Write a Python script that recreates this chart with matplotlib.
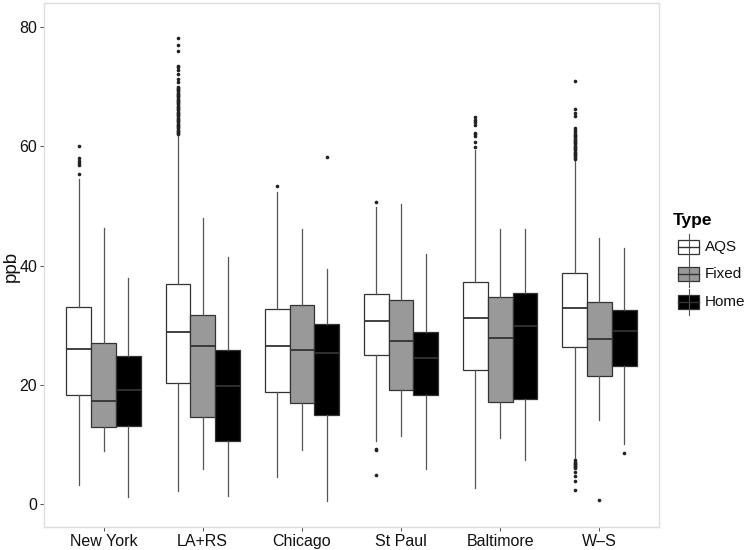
import matplotlib
matplotlib.use("Agg")
import matplotlib.pyplot as plt
from matplotlib.patches import Rectangle
from matplotlib.lines import Line2D

plt.rcParams['font.family'] = ['Liberation Sans', 'DejaVu Sans']

cities = ["New York", "LA+RS", "Chicago", "St Paul", "Baltimore", "W\u2013S"]
types = ["AQS", "Fixed", "Home"]
colors = {"AQS": "#ffffff", "Fixed": "#999999", "Home": "#000000"}

# [whislo, q1, med, q3, whishi] per city, per type
aqs_stats = [
    [3.2, 18.3, 26.1, 33.0, 54.6],
    [2.3, 20.3, 28.9, 37.0, 61.8],
    [4.6, 18.9, 26.6, 32.7, 52.3],
    [10.7, 25.1, 30.8, 35.3, 49.9],
    [2.8, 22.6, 31.3, 37.2, 59.3],
    [7.6, 26.3, 32.9, 38.8, 57.7],
]
fixed_stats = [
    [8.9, 13.0, 17.3, 27.0, 46.3],
    [6.0, 14.6, 26.6, 31.8, 48.0],
    [9.2, 17.0, 25.8, 33.4, 46.2],
    [11.5, 19.2, 27.4, 34.2, 50.3],
    [11.2, 17.2, 27.9, 34.8, 46.1],
    [14.2, 21.6, 27.8, 33.9, 44.6],
]
home_stats = [
    [1.2, 13.1, 19.2, 24.8, 38.0],
    [1.5, 10.6, 19.9, 25.8, 41.5],
    [0.55, 15.0, 25.3, 30.3, 39.4],
    [6.0, 18.4, 24.6, 28.9, 42.0],
    [7.4, 17.7, 29.9, 35.5, 46.1],
    [10.2, 23.2, 29.0, 32.5, 42.9],
]

aqs_fliers = [
    [55.3, 56.8, 57.2, 57.6, 58.0, 60.0],
    [62.0, 62.2, 62.4, 62.6, 62.8, 63.0, 63.2, 63.4, 63.6, 63.8, 64.0, 64.2,
     64.4, 64.6, 64.8, 65.0, 65.2, 65.4, 65.6, 65.8, 66.0, 66.2, 66.4, 66.6,
     66.8, 67.0, 67.2, 67.4, 67.6, 67.8, 68.0, 68.2, 68.4, 68.6, 68.8, 69.0,
     69.2, 69.4, 69.6, 69.8, 70.0, 70.7, 71.3, 72.1, 72.8, 73.2, 73.5,
     76.0, 77.0, 78.1],
    [53.4],
    [50.7, 9.3, 9.1, 5.0],
    [59.8, 60.8, 61.7, 62.0, 62.2, 63.5, 64.0, 64.4, 64.9],
    [57.9, 58.1, 58.3, 58.5, 58.7, 58.9, 59.1, 59.3, 59.5, 59.7, 59.9, 60.1,
     60.3, 60.5, 60.7, 60.9, 61.1, 61.3, 61.5, 61.7, 61.9, 62.1, 62.4, 62.7,
     63.0, 65.0, 65.5, 66.2, 71.0,
     7.4, 7.2, 7.0, 6.8, 6.6, 6.4, 6.2, 6.1, 5.4, 4.7, 4.0, 2.5],
]
fixed_fliers = [[], [], [], [], [], [0.75]]
home_fliers = [[], [], [58.2], [], [], [8.7]]

y_ticks = [0, 20, 40, 60, 80]

W, H = 750, 550
fig = plt.figure(figsize=(W / 100, H / 100), dpi=100)
L, R, T, B = 44, 659, 3, 527
ax = fig.add_axes([L / W, (H - B) / H, (R - L) / W, (B - T) / H])

edge = "#333333"
all_stats = {"AQS": aqs_stats, "Fixed": fixed_stats, "Home": home_stats}
all_fliers = {"AQS": aqs_fliers, "Fixed": fixed_fliers, "Home": home_fliers}
offsets = {"AQS": -0.25, "Fixed": 0.0, "Home": 0.25}

for t in types:
    bx = []
    pos = []
    for i, c in enumerate(cities):
        s = all_stats[t][i]
        bx.append(dict(whislo=s[0], q1=s[1], med=s[2], q3=s[3], whishi=s[4],
                       fliers=all_fliers[t][i], label=c))
        pos.append(i + 1 + offsets[t])
    ax.bxp(bx, positions=pos, widths=0.25, patch_artist=True, showcaps=False,
           boxprops=dict(facecolor=colors[t], edgecolor=edge, linewidth=0.9),
           whiskerprops=dict(color="#555555", linewidth=0.9),
           medianprops=dict(color=edge, linewidth=1.3),
           flierprops=dict(marker='o', markersize=1.6, markerfacecolor='#222222',
                           markeredgecolor='#222222', linestyle='none'),
           manage_ticks=False, zorder=2)

ax.set_xlim(0.4, 6.6)
ax.set_ylim(-3.77, 84.0)
ax.set_xticks(range(1, len(cities) + 1))
ax.set_xticklabels(cities)
ax.set_yticks(y_ticks)
ax.set_yticklabels([str(v) for v in y_ticks])
ax.tick_params(axis='both', labelsize=11.5, colors="#333333", labelcolor="#111111",
               length=3, width=0.6, pad=2)
for sp in ax.spines.values():
    sp.set_color("#dddddd")
    sp.set_linewidth(1.0)

# y-axis title placed in figure pixels
fig.text(11.5 / W, 1 - 266 / H, "ppb", fontsize=13.5, rotation=90,
         ha='center', va='center', color="#111111")

# legend
lx = fig.add_axes([0, 0, 1, 1], facecolor='none')
lx.set_xlim(0, W)
lx.set_ylim(H, 0)
lx.axis('off')
lx.text(673, 221, "Type", fontsize=12.5, fontweight='bold', va='center', ha='left')
key_y = [247, 274, 302]
for t, ky in zip(types, key_y):
    lx.add_line(Line2D([688.5, 688.5], [ky - 13, ky + 13], color="#555555", lw=0.8))
    lx.add_patch(Rectangle((678, ky - 7), 21, 14, facecolor=colors[t],
                           edgecolor=edge, lw=0.9))
    lx.add_line(Line2D([678, 699], [ky, ky], color=edge, lw=1.0))
    lx.text(705, ky, t, fontsize=11, va='center', ha='left', color="#111111")

fig.savefig("out.png", dpi=100)
